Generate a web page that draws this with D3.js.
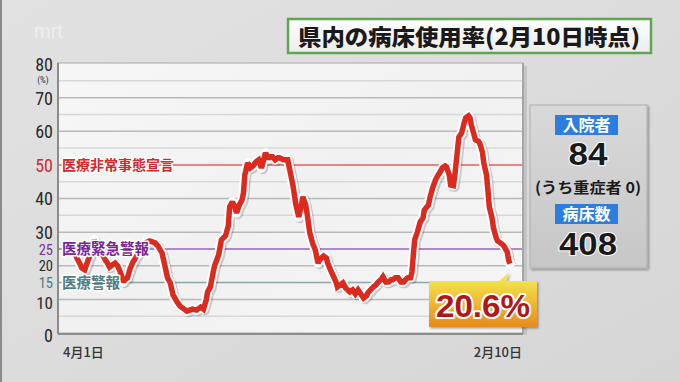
<!DOCTYPE html>
<html><head><meta charset="utf-8">
<script src="https://cdn.jsdelivr.net/npm/d3@7"></script>
<style>
html,body{margin:0;padding:0;background:#dcdcdc;}
svg{display:block;}
</style></head>
<body>
<svg id="c" width="680" height="382"></svg>
<script>
// ---- data ----
const startDate = "2021-04-01";
const endDate = "2022-02-10";
const dayOffsets = [0,1,4,5,7,9,11,13,14,17,20,22,23,25,27,29,31,33,35,36,38,40,42,45,47,51,54,56,58,60,63,65,67,69,71,74,76,78,81,83,85,88,91,93,95,96,98,100,101,104,106,109,111,112,114,116,117,119,121,122,123,125,127,129,131,133,134,135,137,138,140,141,143,145,147,148,151,152,154,156,158,160,162,164,165,167,168,170,172,174,176,177,180,182,183,185,187,189,190,193,194,196,199,201,203,205,206,209,211,212,214,216,218,219,222,223,225,227,229,230,232,234,236,238,240,241,243,244,245,246,248,250,252,253,256,257,259,261,263,264,266,268,269,271,272,274,275,277,278,279,280,282,283,285,286,287,289,290,292,293,295,296,298,299,300,302,303,305,306,308,310,311,313,314,315];
const rates = [23.8,22.6,20.2,19.3,18.8,21.1,23.2,26.2,27.7,24.7,23.2,21.7,21.1,19.6,20.2,20.8,19.9,17.9,15.2,15.8,16.4,19.3,21.1,23.2,24.7,26.8,27.4,27.1,26.8,25.9,23.8,20.2,16.4,14.9,11.3,9.2,8.0,7.4,6.5,6.8,7.1,6.8,7.7,7.1,9.8,12.2,13.7,17.9,19.9,23.2,27.7,28.9,31.8,37.5,39.0,37.2,35.7,38.1,39.6,41.7,47.0,50.6,49.1,49.7,50.9,51.5,50.3,49.1,52.1,53.6,51.8,52.4,52.4,51.5,52.1,52.1,51.5,51.5,51.5,47.6,43.5,38.1,34.5,38.1,40.5,38.1,35.7,29.8,26.8,24.7,20.8,21.7,22.9,22.3,20.8,18.8,17.0,15.2,13.7,14.6,14.9,13.4,12.2,12.8,11.6,12.8,12.2,10.4,11.0,11.9,12.8,13.7,14.3,14.9,16.1,16.7,15.2,15.2,15.8,15.8,16.4,16.4,15.2,15.2,16.1,16.4,16.4,18.2,23.2,27.7,30.1,33.0,34.2,36.6,38.1,40.2,43.2,45.5,47.0,47.6,49.1,49.7,49.4,47.0,44.0,43.8,46.7,54.5,58.3,58.9,59.5,62.8,64.0,64.6,64.0,61.9,58.9,57.4,57.1,56.5,53.9,50.6,47.0,42.6,37.5,34.2,31.3,28.3,27.4,26.8,26.2,25.6,24.1,21.7,20.6];
const yTickValues = [80,70,60,50,40,30,25,20,15,10,0];
const gridValues = [5,10,15,20,25,30,35,40,45,50,55,60,65,70,75];
const thresholds = [50,25,15];
const thresholdNames = ["医療非常事態宣言","医療緊急警報","医療警報"];
const xLabels = ["4月1日","2月10日"];
const title = "県内の病床使用率(2月10日時点)";
const panelLabels = ["入院者","病床数"];
const panelValues = ["84","408"];
const panelNote = "(うち重症者 0)";
const latestLabel = "20.6%";

// ---- drawing ----
const svg = d3.select("#c");
const defs = svg.append("defs");
const jp = "'Noto Sans CJK JP','Noto Sans',sans-serif";
const num = "'Liberation Sans Narrow','Roboto Condensed','Roboto','Liberation Sans',sans-serif";

const bgG = defs.append("linearGradient").attr("id","bg").attr("x1",0).attr("y1",0).attr("x2",1).attr("y2",1);
bgG.append("stop").attr("offset","0%").attr("stop-color","#e2e2e2");
bgG.append("stop").attr("offset","100%").attr("stop-color","#d6d6d6");
const plG = defs.append("linearGradient").attr("id","pl").attr("x1",0).attr("y1",0).attr("x2",1).attr("y2",1);
plG.append("stop").attr("offset","0%").attr("stop-color","#f7f7f7");
plG.append("stop").attr("offset","50%").attr("stop-color","#f1f1f1");
plG.append("stop").attr("offset","100%").attr("stop-color","#f6f6f6");
const rpG = defs.append("linearGradient").attr("id","rp").attr("x1",0).attr("y1",0).attr("x2",0).attr("y2",1);
rpG.append("stop").attr("offset","0%").attr("stop-color","#d9d9d9");
rpG.append("stop").attr("offset","100%").attr("stop-color","#c6c6c6");
const cG = defs.append("linearGradient").attr("id","cg").attr("x1",0).attr("y1",0).attr("x2",0).attr("y2",1);
cG.append("stop").attr("offset","0%").attr("stop-color","#f3e24a");
cG.append("stop").attr("offset","100%").attr("stop-color","#e88a1c");
const tG = defs.append("linearGradient").attr("id","tg").attr("x1",0).attr("y1",0).attr("x2",0).attr("y2",1);
tG.append("stop").attr("offset","0%").attr("stop-color","#ffffff");
tG.append("stop").attr("offset","100%").attr("stop-color","#ececec");
const sh = defs.append("filter").attr("id","sh").attr("x","-10%").attr("y","-10%").attr("width","130%").attr("height","130%");
sh.append("feDropShadow").attr("dx",1.5).attr("dy",1.5).attr("stdDeviation",1.2).attr("flood-color","#000").attr("flood-opacity",0.35);

svg.append("rect").attr("width",680).attr("height",382).attr("fill","url(#bg)");
svg.append("rect").attr("x",0).attr("y",0).attr("width",2).attr("height",382).attr("fill","#8a8a8a");

// watermark
svg.append("text").attr("x",34).attr("y",38).attr("font-family","'Liberation Sans',sans-serif")
  .attr("font-size",20).attr("fill","#f2f2f2").attr("opacity",0.8).text("mrt");

// title box
svg.append("rect").attr("x",288).attr("y",19).attr("width",363).attr("height",34)
  .attr("fill","url(#tg)").attr("stroke","#5fa653").attr("stroke-width",2.5);
svg.append("text").attr("x",469).attr("y",45).attr("text-anchor","middle")
  .attr("font-family",jp).attr("font-weight",900).attr("font-size",22).attr("fill","#1a1a1a")
  .attr("textLength",342).attr("lengthAdjust","spacingAndGlyphs").text(title);

// scales
const parse = d3.timeParse("%Y-%m-%d");
const d0 = parse(startDate), d1 = parse(endDate);
const x = d3.scaleTime().domain([d0,d1]).range([75,510]);
const y = d3.scaleLinear().domain([0,80]).range([333,64]);
const data = dayOffsets.map((d,i)=>({date:d3.timeDay.offset(d0,d),v:rates[i]}));

// plot panel
const px0 = 58, px1 = 523;
svg.append("rect").attr("x",px1+1).attr("y",y(80)+2).attr("width",3).attr("height",y(0)-y(80)).attr("fill","#c4c4c4");
svg.append("rect").attr("x",px0).attr("y",y(80)-1).attr("width",px1-px0).attr("height",y(0)-y(80)+1)
  .attr("fill","url(#pl)").attr("stroke","#a8a8a8").attr("stroke-width",1);
svg.append("line").attr("x1",px0).attr("x2",px0).attr("y1",y(80)-1).attr("y2",y(0)+1).attr("stroke","#8c8c8c").attr("stroke-width",2);
svg.append("line").attr("x1",px0).attr("x2",px1).attr("y1",y(0)+1).attr("y2",y(0)+1).attr("stroke","#8c8c8c").attr("stroke-width",2);
svg.append("line").attr("x1",px1).attr("x2",px1).attr("y1",y(80)-1).attr("y2",y(0)+1).attr("stroke","#9a9a9a").attr("stroke-width",1.5);

// grid
const thrColors = {50:"#e06060",25:"#9a66bf",15:"#8fa5a8"};
svg.append("g").selectAll("line").data(gridValues).join("line")
  .attr("x1",px0+1).attr("x2",px1-1).attr("y1",d=>y(d)).attr("y2",d=>y(d))
  .attr("stroke",d=>thrColors[d] || (d%10===0?"#b9b9b9":"#d8d8d8"))
  .attr("stroke-width",1.5);

// y axis labels
const tickColor = {50:"#c83030",25:"#7b2e9c",15:"#4d7d82"};
const tickShift = {10:3,0:2};
const yAxis = d3.axisLeft(y).tickValues(yTickValues).tickSize(0).tickPadding(0).tickFormat(d3.format("d"));
const ga = svg.append("g").attr("transform","translate(53,0)").call(yAxis);
ga.select(".domain").remove();
ga.selectAll("text").attr("font-family",num).attr("font-size",d=>[25,20,15].includes(d)?14.5:d===10?17:18)
  .attr("fill",d=>tickColor[d]||"#2a2a2a").attr("dy","0.36em").attr("x",0)
  .attr("y",d=>tickShift[d]||0);
svg.append("text").attr("x",43).attr("y",y(80)+19).attr("text-anchor","middle")
  .attr("font-family",num).attr("font-size",9).attr("fill","#333").text("(%)");

// line
const line = d3.line().x(d=>x(d.date)).y(d=>y(d.v)).curve(d3.curveLinear);
svg.append("path").datum(data).attr("d",line).attr("fill","none").attr("stroke","#000").attr("stroke-opacity",0.18)
  .attr("stroke-width",9.5).attr("stroke-linejoin","round").attr("transform","translate(1.5,1.5)");
svg.append("path").datum(data).attr("d",line).attr("fill","none").attr("stroke","#ffffff")
  .attr("stroke-width",9.5).attr("stroke-linejoin","round").attr("stroke-linecap","round");
svg.append("path").datum(data).attr("d",line).attr("fill","none").attr("stroke","#dd2a1e")
  .attr("stroke-width",5.5).attr("stroke-linejoin","miter").attr("stroke-miterlimit",2);

// threshold labels
const thrTextColor = ["#d22a2a","#7a2597","#4f7d84"];
svg.append("g").selectAll("text").data(thresholds).join("text")
  .attr("x",62).attr("y",d=>y(d)).attr("dy","0.36em")
  .attr("font-family",jp).attr("font-weight",700).attr("font-size",(d,i)=>i===0?14:14.5)
  .attr("fill",(d,i)=>thrTextColor[i]).attr("stroke","#fff").attr("stroke-width",3).attr("paint-order","stroke")
  .attr("stroke-linejoin","round")
  .text((d,i)=>thresholdNames[i]);

// x labels
svg.append("text").attr("x",x(d0)-12).attr("y",357).attr("font-family",jp).attr("font-weight",500)
  .attr("font-size",13).attr("fill","#333").text(xLabels[0]);
svg.append("text").attr("x",x(d1)+12).attr("y",357).attr("text-anchor","end").attr("font-family",jp).attr("font-weight",500)
  .attr("font-size",13).attr("fill","#333").text(xLabels[1]);

// callout
const last = data[data.length-1];
const cx = x(last.date);
const cg = svg.append("g").attr("filter","url(#sh)");
cg.append("path").attr("d",`M${cx-11},281 L${cx-1},${y(last.v)+9} L${cx-4},281 Z`).attr("fill","#f3e24a");
cg.append("rect").attr("x",429).attr("y",281).attr("width",108).attr("height",46).attr("fill","url(#cg)");
svg.append("text").attr("x",483).attr("y",317).attr("text-anchor","middle")
  .attr("font-family","'Liberation Sans','Roboto',sans-serif").attr("font-weight",700).attr("font-size",32)
  .attr("fill","#b01818").attr("stroke","#fff").attr("stroke-width",4).attr("paint-order","stroke").attr("stroke-linejoin","round")
  .attr("textLength",94).attr("lengthAdjust","spacingAndGlyphs")
  .text(latestLabel);

// right panel
const rp = svg.append("g");
rp.append("rect").attr("x",530).attr("y",105).attr("width",117).attr("height",163).attr("fill","url(#rp)")
  .attr("stroke","#b0b0b0").attr("filter","url(#sh)");
const boxY = [115,204], valY = [165,255], valW = [39,58];
panelLabels.forEach((t,i)=>{
  rp.append("rect").attr("x",555).attr("y",boxY[i]).attr("width",63).attr("height",20).attr("fill","#2b7de0");
  rp.append("text").attr("x",586.5).attr("y",boxY[i]+16).attr("text-anchor","middle").attr("font-family",jp)
    .attr("font-weight",700).attr("font-size",16).attr("fill","#fff").text(t);
  rp.append("text").attr("x",588).attr("y",valY[i]).attr("text-anchor","middle").attr("font-family","'Liberation Sans','Roboto',sans-serif")
    .attr("font-weight",700).attr("font-size",31).attr("fill","#1a1a1a").attr("stroke","#fff").attr("stroke-width",2)
    .attr("paint-order","stroke").attr("textLength",valW[i]).attr("lengthAdjust","spacingAndGlyphs").text(panelValues[i]);
});
rp.append("text").attr("x",588).attr("y",193).attr("text-anchor","middle").attr("font-family",jp)
  .attr("font-weight",700).attr("font-size",15).attr("fill","#1a1a1a").attr("textLength",106).attr("lengthAdjust","spacingAndGlyphs")
  .text(panelNote);
</script>
</body></html>
